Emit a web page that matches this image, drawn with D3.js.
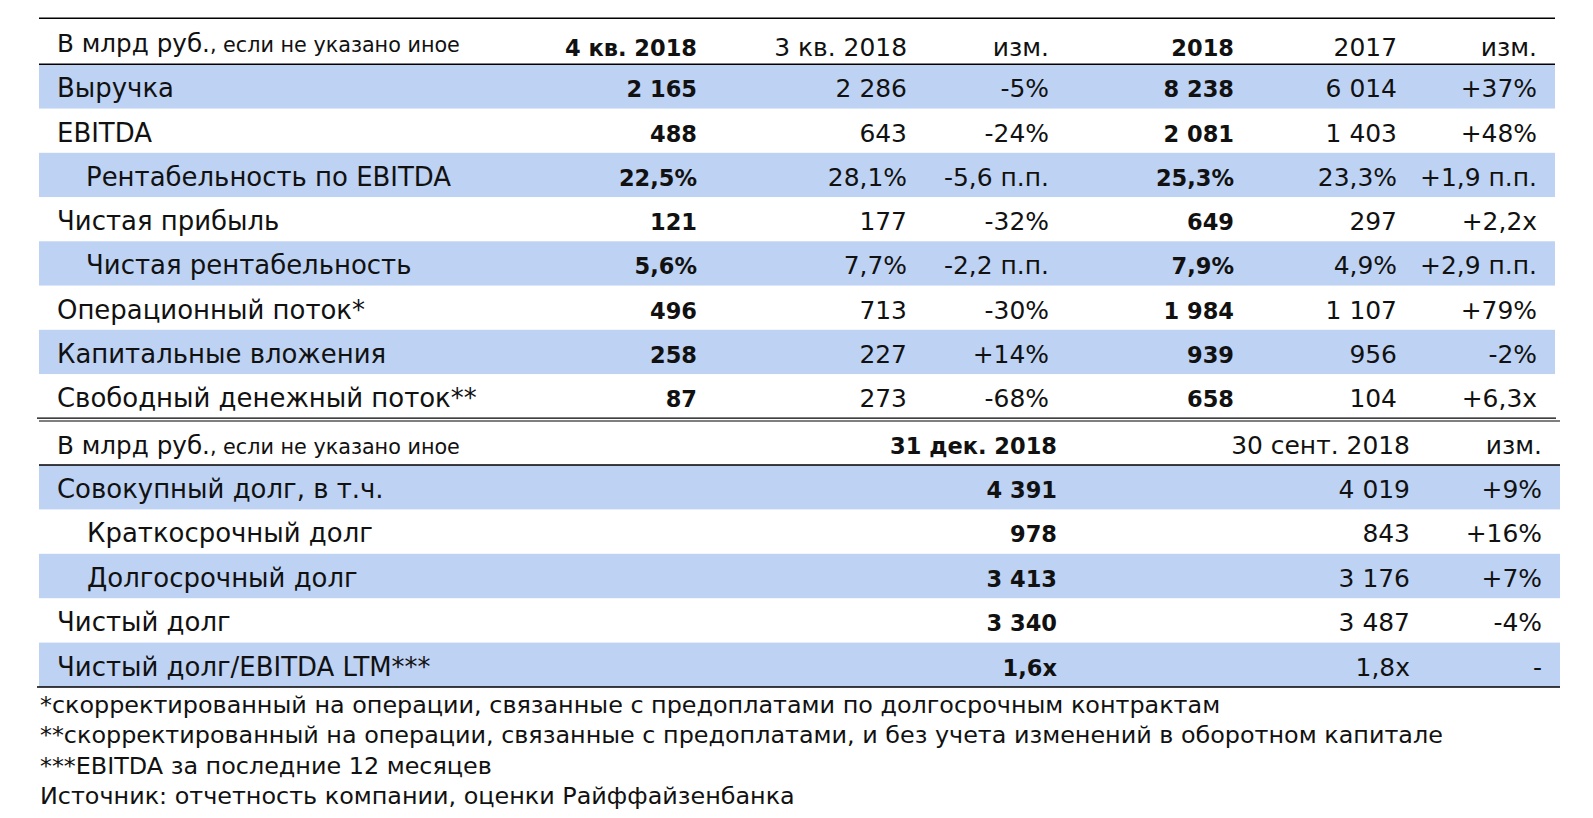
<!DOCTYPE html>
<html><head><meta charset="utf-8">
<script src="https://cdn.jsdelivr.net/npm/d3@7"></script>
<style>
html,body{margin:0;padding:0;background:#fff;}
svg text{font-family:"DejaVu Sans",sans-serif;fill:#111;}
</style></head>
<body>
<svg id="chart" width="1593" height="818"></svg>
<script>
// ---- data ----
const unitMain = "В млрд руб.";
const unitRest = ", если не указано иное";
const header1 = ["4 кв. 2018","3 кв. 2018","изм.","2018","2017","изм."];
const header1Bold = [true,false,false,true,false,false];
const labels1 = ["Выручка","EBITDA","Рентабельность по EBITDA","Чистая прибыль","Чистая рентабельность","Операционный поток*","Капитальные вложения","Свободный денежный поток**"];
const indent1 = [0,0,1,0,1,0,0,0];
const q4_2018 = ["2 165","488","22,5%","121","5,6%","496","258","87"];
const q3_2018 = ["2 286","643","28,1%","177","7,7%","713","227","273"];
const qChange = ["-5%","-24%","-5,6 п.п.","-32%","-2,2 п.п.","-30%","+14%","-68%"];
const y2018 = ["8 238","2 081","25,3%","649","7,9%","1 984","939","658"];
const y2017 = ["6 014","1 403","23,3%","297","4,9%","1 107","956","104"];
const yChange = ["+37%","+48%","+1,9 п.п.","+2,2x","+2,9 п.п.","+79%","-2%","+6,3x"];

const header2 = ["31 дек. 2018","30 сент. 2018","изм."];
const header2Bold = [true,false,false];
const labels2 = ["Совокупный долг, в т.ч.","Краткосрочный долг","Долгосрочный долг","Чистый долг","Чистый долг/EBITDA LTM***"];
const indent2 = [0,1,1,0,0];
const dec2018 = ["4 391","978","3 413","3 340","1,6x"];
const sep2018 = ["4 019","843","3 176","3 487","1,8x"];
const change2 = ["+9%","+16%","+7%","-4%","-"];

const footnotes = [
  "*скорректированный на операции, связанные с предоплатами по долгосрочным контрактам",
  "**скорректированный на операции, связанные с предоплатами, и без учета изменений в оборотном капитале",
  "***EBITDA за последние 12 месяцев",
  "Источник: отчетность компании, оценки Райффайзенбанка"
];

// ---- rendering ----
const svg = d3.select("#chart");
const BLUE = "#bed2f3";

function measure(txt, weight){
  const t = svg.append("text").attr("font-size",100).attr("font-weight",weight).text(txt);
  const w = t.node().getComputedTextLength(); t.remove(); return w;
}
function fit(txt, weight, target){ return 100*target/measure(txt,weight); }

const fsLabel = fit("Свободный денежный поток**","normal",420);
const fsVal = fit("30 сент. 2018","normal",179);
const fsBold = fit("31 дек. 2018","bold",167);
const fsUnit = fit(unitMain,"normal",153);
const fsUnitRest = fit(unitRest,"normal",250);
const fsFoot = fit(footnotes[1],"normal",1404);

// column scales (right edges)
const cols1 = d3.scaleOrdinal().domain(d3.range(6)).range([697,907,1049,1234,1397,1537]);
const cols2 = d3.scaleOrdinal().domain(d3.range(3)).range([1057,1410,1542]);

const y1 = d3.scaleBand().domain(d3.range(labels1.length)).range([64.3,418.3]).padding(0);
const y2 = d3.scaleBand().domain(d3.range(labels2.length)).range([465,687]).padding(0);

// backgrounds
svg.selectAll("rect.b1").data(d3.range(labels1.length).filter(i=>i%2===0)).join("rect")
  .attr("x",39).attr("width",1555-39).attr("y",i=>y1(i)).attr("height",y1.bandwidth()).attr("fill",BLUE);
svg.selectAll("rect.b2").data(d3.range(labels2.length).filter(i=>i%2===0)).join("rect")
  .attr("x",39).attr("width",1560-39).attr("y",i=>y2(i)).attr("height",y2.bandwidth()).attr("fill",BLUE);

// lines
const lines = [
  {x1:39,x2:1555,y:18.3,w:1.6},
  {x1:39,x2:1555,y:64.3,w:1.6},
  {x1:37,x2:1556,y:418.2,w:1.2},
  {x1:39,x2:1560,y:421,w:1.2},
  {x1:39,x2:1560,y:465,w:1.6},
  {x1:37,x2:1560,y:687,w:1.6}
];
svg.selectAll("line.rule").data(lines).join("line")
  .attr("x1",d=>d.x1).attr("x2",d=>d.x2).attr("y1",d=>d.y).attr("y2",d=>d.y)
  .attr("stroke","#000").attr("stroke-width",d=>d.w);

// unit header text
function unitText(x,y){
  const t = svg.append("text").attr("x",x).attr("y",y);
  t.append("tspan").attr("font-size",fsUnit).text(unitMain);
  t.append("tspan").attr("font-size",fsUnitRest).text(unitRest);
}
unitText(57,51.5);
unitText(57,453.5);

// headers
svg.selectAll("text.h1").data(header1).join("text")
  .attr("x",(d,i)=>cols1(i)).attr("y",56).attr("text-anchor","end")
  .attr("font-size",(d,i)=>header1Bold[i]?fsBold:fsVal)
  .attr("font-weight",(d,i)=>header1Bold[i]?"bold":"normal").text(d=>d);
svg.selectAll("text.h2").data(header2).join("text")
  .attr("x",(d,i)=>cols2(i)).attr("y",454).attr("text-anchor","end")
  .attr("font-size",(d,i)=>header2Bold[i]?fsBold:fsVal)
  .attr("font-weight",(d,i)=>header2Bold[i]?"bold":"normal").text(d=>d);

// section 1
const base = 33;
svg.selectAll("text.l1").data(labels1).join("text")
  .attr("x",(d,i)=>indent1[i]?86:57).attr("y",(d,i)=>y1(i)+base)
  .attr("font-size",fsLabel).text(d=>d);
const series1 = [q4_2018,q3_2018,qChange,y2018,y2017,yChange];
series1.forEach((arr,c)=>{
  svg.selectAll("text.v1c"+c).data(arr).join("text")
    .attr("x",cols1(c)).attr("y",(d,i)=>y1(i)+base).attr("text-anchor","end")
    .attr("font-size",header1Bold[c]?fsBold:fsVal)
    .attr("font-weight",header1Bold[c]?"bold":"normal").text(d=>d);
});

// section 2
svg.selectAll("text.l2").data(labels2).join("text")
  .attr("x",(d,i)=>indent2[i]?87:57).attr("y",(d,i)=>y2(i)+base)
  .attr("font-size",fsLabel).text(d=>d);
const series2 = [dec2018,sep2018,change2];
series2.forEach((arr,c)=>{
  svg.selectAll("text.v2c"+c).data(arr).join("text")
    .attr("x",cols2(c)).attr("y",(d,i)=>y2(i)+base).attr("text-anchor","end")
    .attr("font-size",header2Bold[c]?fsBold:fsVal)
    .attr("font-weight",header2Bold[c]?"bold":"normal").text(d=>d);
});

// footnotes
svg.selectAll("text.fn").data(footnotes).join("text")
  .attr("x",40).attr("y",(d,i)=>712.5+i*30.5).attr("font-size",fsFoot).text(d=>d);
</script>
</body></html>
